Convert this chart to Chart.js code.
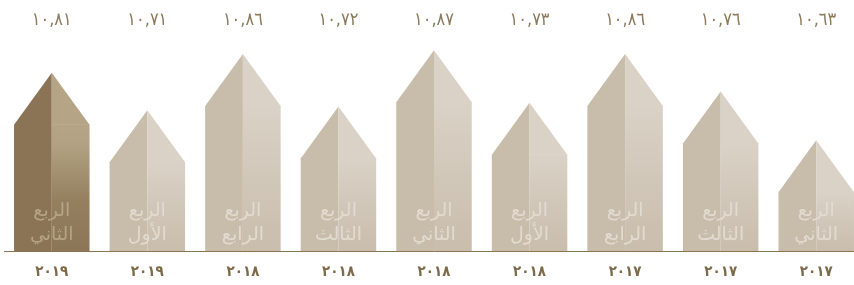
<!DOCTYPE html>
<html><head><meta charset="utf-8">
<script src="https://cdn.jsdelivr.net/npm/chart.js@4.4.0/dist/chart.umd.min.js"></script>
<style>
html,body{margin:0;padding:0;background:#fff;overflow:hidden;width:854px;height:285px}
#wrap{position:relative;width:864px;height:285px}
canvas{display:block}
</style></head>
<body><div id="wrap"><canvas id="c" width="864" height="285"></canvas></div>
<script>
const years = ['٢٠١٩','٢٠١٩','٢٠١٨','٢٠١٨','٢٠١٨','٢٠١٨','٢٠١٧','٢٠١٧','٢٠١٧'];
const quarterWord = ['الربع','الربع','الربع','الربع','الربع','الربع','الربع','الربع','الربع'];
const quarterName = ['الثاني','الأول','الرابع','الثالث','الثاني','الأول','الرابع','الثالث','الثاني'];
const values = [10.81, 10.71, 10.86, 10.72, 10.87, 10.73, 10.86, 10.76, 10.63];
const valueLabels = ['١٠,٨١','١٠,٧١','١٠,٨٦','١٠,٧٢','١٠,٨٧','١٠,٧٣','١٠,٨٦','١٠,٧٦','١٠,٦٣'];
const highlightIndex = 0;

const housePlugin = {
  id: 'house',
  beforeDatasetsDraw(chart) {
    const ctx = chart.ctx;
    const ys = chart.scales.y;
    const base = ys.getPixelForValue(ys.min);
    const meta = chart.getDatasetMeta(0);
    meta.data.forEach((bar, i) => {
      const p = bar.getProps(['x', 'y', 'width'], true);
      const x = p.x, y = p.y, w = p.width;
      const half = w / 2, roof = w * 0.69, l = x - half, r = x + half, sh = y + roof;
      const dark = i === highlightIndex;
      ctx.save();
      ctx.fillStyle = dark ? '#8a7455' : '#c8bcab';
      ctx.beginPath();
      ctx.moveTo(x, y); ctx.lineTo(l, sh); ctx.lineTo(l, base); ctx.lineTo(x, base); ctx.closePath();
      ctx.fill();
      const g = ctx.createLinearGradient(0, sh, 0, base);
      if (dark) {
        g.addColorStop(0, '#b5a586'); g.addColorStop(0.15, '#b2a283'); g.addColorStop(0.6, '#94805f'); g.addColorStop(1, '#8b7657');
      } else {
        g.addColorStop(0, '#dad2c6'); g.addColorStop(0.5, '#d1c7b9'); g.addColorStop(1, '#c9bdac');
      }
      ctx.fillStyle = dark ? '#b5a586' : '#dad2c6';
      ctx.beginPath();
      ctx.moveTo(x, y); ctx.lineTo(r, sh); ctx.lineTo(x, sh); ctx.closePath();
      ctx.fill();
      ctx.fillStyle = g;
      ctx.fillRect(x, sh - 0.5, half, base - sh + 0.5);
      ctx.fillStyle = dark ? '#b5a487' : '#e2dbd0';
      ctx.font = '19px "DejaVu Sans", "Noto Sans", sans-serif';
      ctx.textAlign = 'center';
      ctx.textBaseline = 'middle';
      ctx.direction = 'rtl';
      ctx.fillText(quarterWord[i], x, base - 40);
      ctx.fillText(quarterName[i], x, base - 16);
      ctx.restore();
    });
  }
};

new Chart(document.getElementById('c'), {
  type: 'bar',
  data: {
    labels: years,
    datasets: [{
      data: values,
      backgroundColor: 'rgba(0,0,0,0)',
      borderWidth: 0,
      barPercentage: 0.79,
      categoryPercentage: 1
    }]
  },
  options: {
    responsive: false,
    animation: false,
    layout: { padding: { left: 4, right: 0, top: 0, bottom: 0 } },
    plugins: { legend: { display: false }, tooltip: { enabled: false } },
    scales: {
      x: {
        type: 'category',
        position: 'bottom',
        offset: true,
        grid: { display: false, drawTicks: false, tickLength: 0 },
        border: { display: true, color: '#8a7556', width: 1 },
        ticks: { color: '#7d6a4a', font: { family: '"DejaVu Sans Condensed", "DejaVu Sans", sans-serif', size: 15, weight: 'bold' }, padding: 12, maxRotation: 0, autoSkip: false },
        afterFit(s) { s.height = 34; }
      },
      xTop: {
        type: 'category',
        position: 'top',
        labels: valueLabels,
        offset: true,
        grid: { display: false, drawTicks: false, tickLength: 0 },
        border: { display: false },
        ticks: { color: '#8b7a5c', font: { family: '"DejaVu Sans Condensed", "DejaVu Sans", sans-serif', size: 18 }, padding: 9, maxRotation: 0, autoSkip: false },
        afterFit(s) { s.height = 40; }
      },
      y: {
        display: false,
        min: 10.335,
        max: 10.897
      }
    }
  },
  plugins: [housePlugin]
});
</script>
</body></html>
